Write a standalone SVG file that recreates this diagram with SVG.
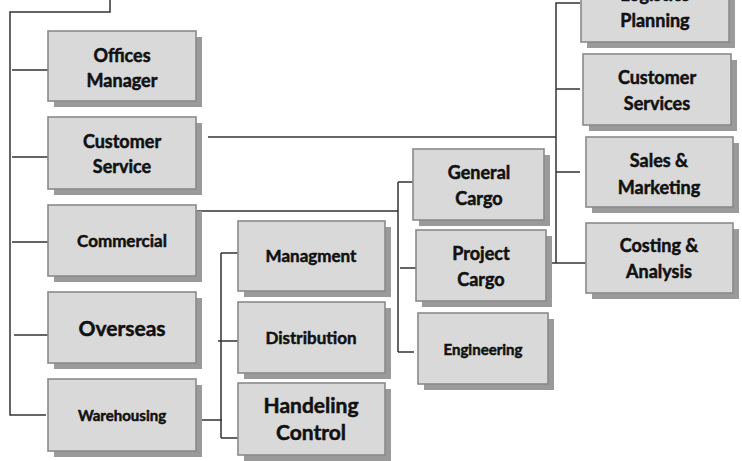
<svg xmlns="http://www.w3.org/2000/svg" width="742" height="461" viewBox="0 0 742 461">
<style>
.sh{fill:#9a9a9a}
.bx{fill:#d9d9d9;stroke:#8a8a8a;stroke-width:1.6}
.t{font-family:Lato,"Liberation Sans",sans-serif;font-weight:bold;fill:#111;stroke:#111;stroke-width:0.5;text-anchor:middle}
.l{font-size:18px}
.s{font-size:17px}
.xs{font-size:15px}
.c{fill:none;stroke:#333;stroke-width:1.5}
</style>
<rect width="742" height="461" fill="#fff"/>
<g id="connectors">
<path class="c" d="M110,0 V12 H10 V415 H46"/>
<path class="c" d="M12,70 H48 M12,157 H48 M12,242 H48 M14,335 H48"/>
<path class="c" d="M208,137 H556"/>
<path class="c" d="M580,3 H556 V263 H586 M556,89 H580 M556,172 H580 M552,263 H556"/>
<path class="c" d="M197,211 H398 M398,182 V352 M398,182 H413 M400,268 H417 M398,352 H414"/>
<path class="c" d="M198,420 H222 M221,253 V438 M221,253 H246 M218,341 H242 M221,438 H244"/>
</g>
<g id="offices-manager"><rect class="sh" x="54" y="37" width="148" height="70"/><rect class="bx" x="48" y="31" width="148" height="70"/><text class="t l" x="122" y="62">Offices</text><text class="t l" x="122" y="87">Manager</text></g>
<g id="customer-service"><rect class="sh" x="54" y="123" width="148" height="72"/><rect class="bx" x="48" y="117" width="148" height="72"/><text class="t l" x="122" y="148">Customer</text><text class="t l" x="122" y="173">Service</text></g>
<g id="commercial"><rect class="sh" x="54" y="211" width="148" height="71"/><rect class="bx" x="48" y="205" width="148" height="71"/><text class="t s" x="122" y="247">Commercial</text></g>
<g id="overseas"><rect class="sh" x="54" y="298" width="148" height="71"/><rect class="bx" x="48" y="292" width="148" height="71"/><text class="t" style="font-size:21px" x="122" y="336">Overseas</text></g>
<g id="warehousing"><rect class="sh" x="54" y="385" width="148" height="72"/><rect class="bx" x="48" y="379" width="148" height="72"/><text class="t xs" x="122" y="421">Warehousing</text></g>
<g id="managment"><rect class="sh" x="244" y="227" width="147" height="70"/><rect class="bx" x="238" y="221" width="147" height="70"/><text class="t s" x="311" y="262">Managment</text></g>
<g id="distribution"><rect class="sh" x="244" y="308" width="147" height="71"/><rect class="bx" x="238" y="302" width="147" height="71"/><text class="t s" x="311" y="344">Distribution</text></g>
<g id="handeling-control"><rect class="sh" x="244" y="389" width="147" height="72"/><rect class="bx" x="238" y="383" width="147" height="72"/><text class="t" style="font-size:21px" x="311" y="413">Handeling</text><text class="t" style="font-size:21px" x="311" y="440">Control</text></g>
<g id="general-cargo"><rect class="sh" x="419" y="155" width="131" height="71"/><rect class="bx" x="413" y="149" width="131" height="71"/><text class="t l" x="479" y="179">General</text><text class="t l" x="479" y="205">Cargo</text></g>
<g id="project-cargo"><rect class="sh" x="422" y="236" width="130" height="71"/><rect class="bx" x="416" y="230" width="130" height="71"/><text class="t l" x="481" y="260">Project</text><text class="t l" x="481" y="286">Cargo</text></g>
<g id="engineering"><rect class="sh" x="424" y="319" width="130" height="71"/><rect class="bx" x="418" y="313" width="130" height="71"/><text class="t xs" x="483" y="355">Engineering</text></g>
<g id="logistics-planning"><rect class="sh" x="587" y="-23" width="148" height="71"/><rect class="bx" x="581" y="-29" width="148" height="71"/><text class="t l" x="655" y="1">Logistics</text><text class="t l" x="655" y="27">Planning</text></g>
<g id="customer-services"><rect class="sh" x="589" y="60" width="148" height="71"/><rect class="bx" x="583" y="54" width="148" height="71"/><text class="t l" x="657" y="84">Customer</text><text class="t l" x="657" y="110">Services</text></g>
<g id="sales-marketing"><rect class="sh" x="592" y="143" width="147" height="70"/><rect class="bx" x="586" y="137" width="147" height="70"/><text class="t l" x="659" y="167">Sales &amp;</text><text class="t l" x="659" y="194">Marketing</text></g>
<g id="costing-analysis"><rect class="sh" x="592" y="229" width="147" height="70"/><rect class="bx" x="586" y="223" width="147" height="70"/><text class="t l" x="659" y="252">Costing &amp;</text><text class="t l" x="659" y="278">Analysis</text></g>
</svg>
